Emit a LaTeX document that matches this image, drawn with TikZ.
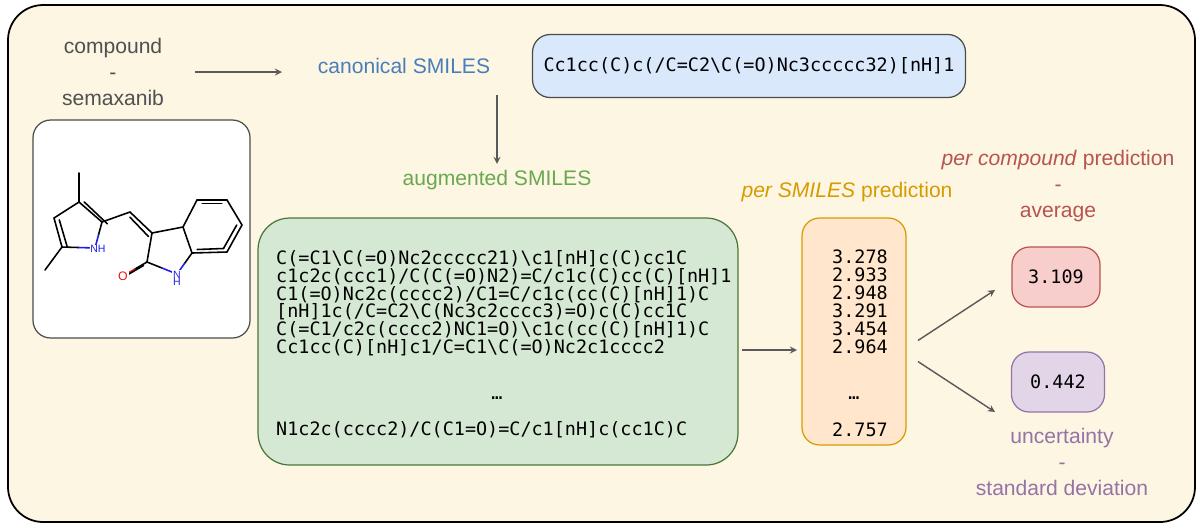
\documentclass[tikz,border=0pt]{standalone}
\usepackage{fontspec}
\setmainfont{Liberation Sans}
\setmonofont{DejaVu Sans Mono}
\usetikzlibrary{positioning,calc}
\definecolor{bgcolor}{RGB}{253,246,227}
\definecolor{txtgray}{RGB}{80,80,80}
\definecolor{canblue}{RGB}{74,126,187}
\definecolor{canfill}{RGB}{218,232,252}
\definecolor{auggreen}{RGB}{106,168,79}
\definecolor{augfill}{RGB}{213,232,212}
\definecolor{predorange}{RGB}{215,155,0}
\definecolor{predfill}{RGB}{255,230,204}
\definecolor{avgred}{RGB}{184,84,80}
\definecolor{avgfill}{RGB}{248,206,204}
\definecolor{stdpurple}{RGB}{150,115,166}
\definecolor{stdfill}{RGB}{225,213,231}
\definecolor{nblue}{RGB}{30,30,230}
\definecolor{ored}{RGB}{230,20,20}
\tikzset{
  box/.style={draw=black!70, line width=0.7pt, rounded corners=10pt},
  label/.style={font=\fontsize{12}{15}\selectfont, align=center},
  mono/.style={font=\ttfamily\fontsize{10.5}{10.2}\selectfont},
  flow/.style={-stealth, draw=black!65, line width=0.8pt},
  bond/.style={line width=0.9pt, line cap=round}
}
\begin{document}
\begin{tikzpicture}[x=0.02cm, y=-0.02cm]
\useasboundingbox (0,0) rectangle (1200,529);
% frame
\draw[fill=bgcolor, line width=1pt, rounded corners=20pt] (8,5) rectangle (1195,522);
% compound name
\node[label, text=txtgray] (cpd) at (113,72) {compound\\-\\semaxanib};
\node[label, text=canblue] (can) at (404,66) {canonical SMILES};
\node[box, fill=canfill, mono, minimum width=8.66cm, minimum height=1.26cm] (canbox) at (749,66)
  {Cc1cc(C)c(/C=C2\textbackslash C(=O)Nc3ccccc32)[nH]1};
\node[label, text=auggreen] (aug) at (497,180) {augmented SMILES};
% molecule
\node[box, fill=white, minimum width=4.34cm, minimum height=4.36cm] (mol) at (141.5,229) {};
\begin{scope}[bond]
  \coordinate (m1) at (79,173);  \coordinate (p3) at (79,202);
  \coordinate (p4) at (54,218);  \coordinate (p5) at (62,247);
  \coordinate (pn) at (95,248);  \coordinate (p2) at (102,222);
  \coordinate (m2) at (45,270);  \coordinate (ch) at (130,212);
  \coordinate (c3) at (152,233); \coordinate (c2) at (147,262);
  \coordinate (ox) at (123,276); \coordinate (nn) at (177,274);
  \coordinate (c7a) at (192,253); \coordinate (c3a) at (183,227);
  \coordinate (b4) at (197,200); \coordinate (b5) at (227,200);
  \coordinate (b6) at (242,225); \coordinate (b7) at (227,252);
  \draw (m1)--(p3)--(p4)--(p5)--(m2);
  \draw (p3)--(p2)--(ch)--(c3)--(c2);
  \draw ([xshift=3pt]p3)--([xshift=3pt,yshift=-1pt]p2);
  \draw ([xshift=3pt,yshift=-1pt]p4)--([xshift=3pt]p5);
  \draw ([yshift=-3pt]ch)--([xshift=-2pt,yshift=-2pt]c3);
  \draw (c3)--(c3a)--(c7a);
  \draw (c3a)--(b4)--(b5)--(b6)--(b7)--(c7a);
  \draw ([xshift=3pt,yshift=-2pt]b4)--([xshift=-3pt,yshift=-2pt]b5);
  \draw ([xshift=-3pt]b6)--([xshift=-2pt,yshift=2pt]b7);
  \draw ([xshift=3pt,yshift=2pt]c7a)--([xshift=-2pt,yshift=2pt]b7);
  \draw (p5)--($(p5)!0.5!(pn)$); \draw[nblue] ($(p5)!0.5!(pn)$)--(pn);
  \draw (p2)--($(p2)!0.5!(pn)$); \draw[nblue] ($(p2)!0.5!(pn)$)--(pn);
  \draw (c2)--($(c2)!0.5!(nn)$); \draw[nblue] ($(c2)!0.5!(nn)$)--(nn);
  \draw (c7a)--($(c7a)!0.5!(nn)$); \draw[nblue] ($(c7a)!0.5!(nn)$)--(nn);
  \draw (c2)--($(c2)!0.5!(ox)$); \draw[ored] ($(c2)!0.5!(ox)$)--(ox);
  \draw ([xshift=-2pt,yshift=-2pt]c2)--([xshift=-2pt,yshift=-2pt]ox);
\end{scope}
\node[fill=white, inner sep=0.5pt, text=nblue, font=\fontsize{6}{6}\selectfont] (nh1) at (98,249) {NH};
\node[fill=white, inner sep=0.5pt, text=nblue, font=\fontsize{6}{6}\selectfont, align=center] (nh2) at (177,278) {N\\[-2pt]H};
\node[fill=white, inner sep=0.5pt, text=ored, font=\fontsize{7}{7}\selectfont] (oo) at (123,276) {O};
% augmented smiles
\node[box, fill=augfill, draw=auggreen!70!black, rounded corners=18pt, minimum width=9.6cm, minimum height=4.94cm] (augbox) at (498,341.5) {};
\node[mono, align=left, anchor=north west] (smiles) at (270,244) {%
C(=C1\textbackslash C(=O)Nc2ccccc21)\textbackslash c1[nH]c(C)cc1C\\
c1c2c(ccc1)/C(C(=O)N2)=C/c1c(C)cc(C)[nH]1\\
C1(=O)Nc2c(cccc2)/C1=C/c1c(cc(C)[nH]1)C\\
{}[nH]1c(/C=C2\textbackslash C(Nc3c2cccc3)=O)c(C)cc1C\\
C(=C1/c2c(cccc2)NC1=O)\textbackslash c1c(cc(C)[nH]1)C\\
Cc1cc(C)[nH]c1/C=C1\textbackslash C(=O)Nc2c1cccc2};
\node[mono] (augdots) at (497,398) {\dots};
\node[mono, anchor=west] (auglast) at (270,430) {N1c2c(cccc2)/C(C1=O)=C/c1[nH]c(cc1C)C};
% per smiles prediction
\node[label, text=predorange] (plab) at (847,192) {\textit{per SMILES} prediction};
\node[box, fill=predfill, draw=predorange, minimum width=2.08cm, minimum height=4.54cm] (pbox) at (854,331.5) {};
\node[mono, align=center, anchor=north] (pvals) at (860,244) {3.278\\2.933\\2.948\\3.291\\3.454\\2.964};
\node[mono] (pdots) at (854,398) {\dots};
\node[mono] (plast) at (860,430) {2.757};
% per compound
\node[label, text=avgred] (alab) at (1058,186) {\textit{per compound} prediction\\-\\average};
\node[box, fill=avgfill, draw=avgred, minimum width=1.76cm, minimum height=1.2cm, mono] (abox) at (1056,277) {3.109};
\node[box, fill=stdfill, draw=stdpurple, minimum width=1.86cm, minimum height=1.2cm, mono] (sbox) at (1058,382) {0.442};
\node[label, text=stdpurple] (slab) at (1062,462) {uncertainty\\-\\standard deviation};
% arrows
\coordinate (cpdout) at (195,72);
\coordinate (canin) at (282,72);
\coordinate (canout) at (497,95);
\coordinate (augout) at (742,350);
\coordinate (predin) at (797,350);
\coordinate (split) at (918,351);
\coordinate (avgin) at (995,290);
\coordinate (stdin) at (995,412);
\draw[flow] (cpdout) -- (canin);
\draw[flow] (canout) -- (aug.north);
\draw[flow] (augout) -- (predin);
\draw[flow] ([yshift=6]split) -- (avgin);
\draw[flow] ([yshift=-6]split) -- (stdin);
\end{tikzpicture}
\end{document}
